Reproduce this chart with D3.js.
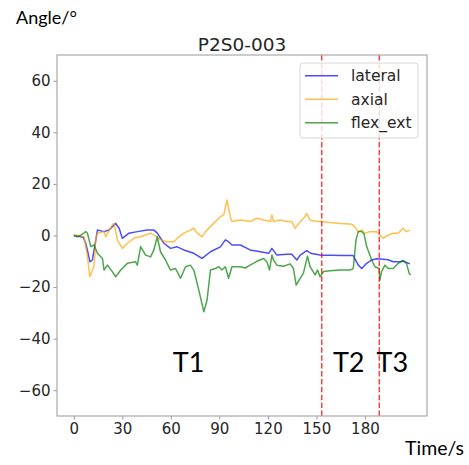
<!DOCTYPE html>
<html><head><meta charset="utf-8">
<script src="https://cdn.jsdelivr.net/npm/d3@7"></script>
<style>html,body{margin:0;padding:0;background:#fff;}</style>
</head><body>
<script>
const lateralT = [0,5.8,7.4,10,11.5,13.6,14.6,18.7,21.8,25.9,28,30,34.1,39.3,45.4,49.5,51.6,55.7,59.8,63.9,68,74.2,79.3,84.5,90.6,93.7,95.7,97.8,103,109,115.3,120.5,122.5,125.6,131.7,134.8,137.9,140,144,147,153.3,158.4,166.6,172.8,175.9,178,181.1,184.2,187.2,191.3,194.4,197.5,201.6,203.6,207.8];
const lateralV = [0,-0.7,-3,-10.2,-9.5,-1.7,2.1,1.5,2.1,4.7,2.8,-1.1,0.9,1.5,2.1,2.1,0.9,-3,-5,-4.4,-5.6,-6.9,-8.9,-6.3,-4.4,-1.7,-2.4,-3.7,-3.7,-5.6,-6.3,-6.9,-5,-7.6,-7.3,-7.3,-9.5,-7.6,-5.9,-7,-7.7,-7.7,-7.8,-7.8,-11.5,-12.8,-10.8,-9.5,-9,-9.2,-9.4,-10.2,-10.2,-9.9,-11];
const axialT = [0,3,6.4,8.4,9.9,11.5,12.5,13.6,14.6,18.7,19.7,23.8,24.9,26.9,30,33.1,37.2,41.3,47.5,51.6,53.6,57.8,61.9,63.9,68,72.1,74.2,76.3,79.3,81.4,86.5,90.6,92.7,94.7,96.8,97.8,103,109,113.2,117.3,121.5,122.5,123.5,127.6,131.7,134.8,136.9,140,143,144,146.1,150.2,153.3,158.4,164.6,170.8,172.8,175.9,178,180,183.1,187.2,189.3,191.3,194.4,197.5,200.6,203.6,205.7,207.8];
const axialV = [0.2,0,-0.5,-8,-16,-13.4,-12,-1,0.9,1.5,-0.5,4.1,4.7,-1.7,-5,-3,-1.1,-0.5,0.9,-0.5,-1.7,-2.4,-2.4,-1.1,0.9,2.1,2.8,0.9,-0.5,1.5,4.7,7.3,8,13.8,7.3,5.4,6,5.4,6.7,6,5.4,8,5.4,6,5.4,5.4,2.8,5.4,7.3,8.6,6,5.4,5.4,5,4.7,4.5,4.1,1.5,2.1,0.9,1.5,1.5,0.2,-1.1,0.2,0.9,0.9,2.8,1.5,2.1];
const flexT = [0,2,4,7.4,8.4,10.5,12.5,14.6,17.7,18.7,20.8,23.8,25.9,29,33.1,38.2,39.3,41.3,44.4,47.5,49.5,51.6,53.6,56.7,59.8,62.9,66,69.1,72.1,74.2,77.3,80.4,82.4,84.5,87.6,89.6,91.6,93.7,95.7,97.8,103,106,109,113.2,117.3,119.4,121,122.5,123.5,125.6,129.7,133.8,135.8,137.5,140,142,144.5,146.1,149.2,150.7,152.3,154.4,158.4,164.6,170.8,172.8,174.5,175.9,178,179.5,181.1,184.2,186.2,188.7,189.3,190.3,192.4,194.4,197.5,200.6,203.6,205.7,207.4,208.3];
const flexV = [0,-0.5,0,1.5,0.9,-4.3,-3.7,-6.9,-8.9,-13.4,-11.5,-14,-16,-13.4,-10.8,-10.2,-11.5,-4.3,-7.6,-8.3,-5.6,-0.5,-6.3,-9.5,-13.4,-12.8,-16.6,-12.1,-11.5,-13.4,-21.2,-29.6,-25,-13.4,-12.8,-12.1,-13.4,-12.1,-16.6,-12.1,-12.1,-12.6,-11.5,-10,-8.9,-10.2,-13.4,-7.6,-9.5,-11.5,-11.9,-11,-12.8,-19.2,-16.6,-14.6,-8,-12.1,-15.3,-13.4,-16,-14,-13.7,-13.4,-13.4,-12.8,-1.7,1.5,1.6,0.5,-4.3,-9.5,-12.1,-12.8,-17.3,-14,-11.5,-12.8,-12.8,-10.8,-9.7,-10.8,-14.7,-15.3];

const seriesNames = ["lateral","axial","flex_ext"];
const seriesColors = ["rgba(0,0,255,0.7)","rgba(255,165,0,0.7)","rgba(0,128,0,0.7)"];
const xTicks = [0,30,60,90,120,150,180];
const yTicks = [-60,-40,-20,0,20,40,60];
const phaseLines = [153.3,188.9];
const phaseLabels = ["T1","T2","T3"];
const phaseLabelT = [71,170,197];

const W=469,H=465;
const L=57,R=427,T=55,B=416;
const svg=d3.select("body").append("svg").attr("width",W).attr("height",H);
const x=d3.scaleLinear().domain([-10.4,218.4]).range([L,R]);
const y=d3.scaleLinear().domain([-70,70]).range([B,T]);

const series=[[lateralT,lateralV],[axialT,axialV],[flexT,flexV]];
const line=d3.line().x(d=>x(d[0])).y(d=>y(d[1]));
series.forEach((s,i)=>{
  const pts=s[0].map((t,j)=>[t,s[1][j]]);
  svg.append("path").attr("d",line(pts)).attr("fill","none")
    .attr("stroke",seriesColors[i]).attr("stroke-width",1.5).attr("stroke-linejoin","round");
});
phaseLines.forEach(t=>{
  svg.append("line").attr("x1",x(t)).attr("x2",x(t)).attr("y1",T).attr("y2",B)
    .attr("stroke","rgba(255,0,0,0.75)").attr("stroke-width",1.5).attr("stroke-dasharray","5.5,2.4");
});

// axes
const fontTick='DejaVu Sans, sans-serif';
const xa=svg.append("g").attr("transform",`translate(0,${B})`).call(d3.axisBottom(x).tickValues(xTicks).tickSize(3.5).tickPadding(4).tickFormat(d3.format("d")));
const ya=svg.append("g").attr("transform",`translate(${L},0)`).call(d3.axisLeft(y).tickValues(yTicks).tickSize(3.5).tickPadding(3).tickFormat(d=>d<0?"\u2212"+Math.abs(d):d));
[xa,ya].forEach(a=>{
  a.select(".domain").remove();
  a.selectAll(".tick line").attr("stroke","#999");
  a.selectAll(".tick text").attr("fill","#262626").style("font-family",fontTick).style("font-size","15px");
});
svg.append("rect").attr("x",L).attr("y",T).attr("width",R-L).attr("height",B-T)
  .attr("fill","none").attr("stroke","#aaaaaa").attr("stroke-width",1.2);

// phase labels
phaseLabels.forEach((s,i)=>{
  svg.append("text").attr("x",x(phaseLabelT[i])).attr("y",372).attr("text-anchor","middle")
    .style("font-family","Lato, sans-serif").style("font-size","27px").attr("fill","#000").text(s);
});

// title and axis labels
svg.append("text").attr("x",(L+R)/2).attr("y",51).attr("text-anchor","middle")
  .style("font-family",fontTick).style("font-size","18.5px").attr("fill","#262626").text("P2S0-003");
svg.append("text").attr("x",16).attr("y",24).style("font-family","Lato, sans-serif").style("font-size","18px").attr("fill","#000").text("Angle/°");
svg.append("text").attr("x",405).attr("y",455).style("font-family","Lato, sans-serif").style("font-size","19.5px").attr("fill","#000").text("Time/s");

// legend
const lg=svg.append("g");
lg.append("rect").attr("x",300).attr("y",63).attr("width",118).attr("height",75).attr("rx",3)
  .attr("fill","rgba(255,255,255,0.8)").attr("stroke","#d8d8d8").attr("stroke-width",1);
seriesNames.forEach((n,i)=>{
  const yy=75.7+i*23.5;
  lg.append("line").attr("x1",305).attr("x2",338).attr("y1",yy).attr("y2",yy).attr("stroke",seriesColors[i]).attr("stroke-width",1.5);
  lg.append("text").attr("x",351).attr("y",yy+5.5).style("font-family",fontTick).style("font-size","15.5px").attr("fill","#262626").text(n);
});
</script>
</body></html>
